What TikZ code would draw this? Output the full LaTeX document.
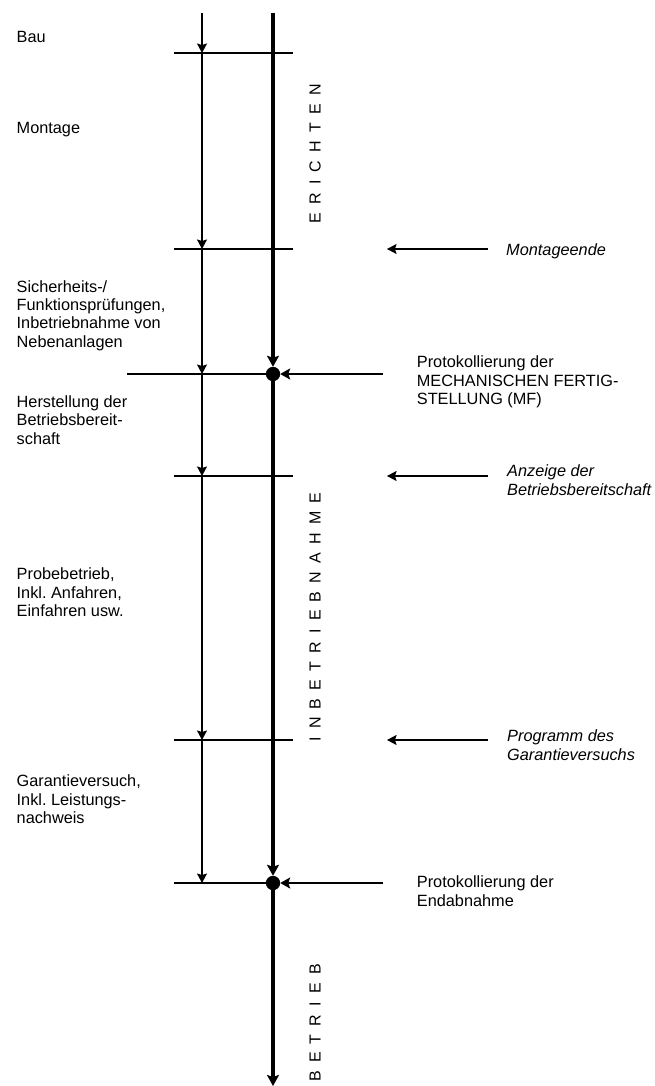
\documentclass[tikz,border=0pt]{standalone}
\usepackage{fontspec}
\setmainfont{Liberation Sans}
\usetikzlibrary{arrows.meta}
% spacing between the letters of the phase labels
\newcommand\lsp{\hspace{8.2pt}}
\frenchspacing
\begin{document}
\begin{tikzpicture}[x=1pt,y=-1pt,
  thinline/.style={line width=1.3pt},
  medline/.style={line width=2.2pt},
  thickline/.style={line width=3.5pt},
  thintip/.style={-{Stealth[length=9.5pt,width=10pt,inset=1.5pt]}},
  thicktip/.style={-{Stealth[length=11pt,width=12pt,inset=2pt]}},
  medtip/.style={-{Stealth[length=10pt,width=11pt,inset=2pt]}},
  % multi-line nodes are anchored at the baseline of their last line
  txt/.style={font=\fontsize{16.3}{18.3}\selectfont, align=left, inner sep=0pt, anchor=base west},
  itxt/.style={txt, font=\fontsize{16.3}{18.3}\selectfont\itshape},
  phase/.style={font=\fontsize{16}{18}\selectfont, inner sep=0pt, rotate=90, anchor=center},
  dot/.style={circle, fill=black, inner sep=0pt, minimum size=14pt}]
\useasboundingbox (0,0) rectangle (655,1086);

% junctions on the thin (activity) line
\coordinate (t0) at (202,13);
\coordinate (j1) at (202,53);
\coordinate (j2) at (202,249);
\coordinate (j3) at (202,374);
\coordinate (j4) at (202,476);
\coordinate (j5) at (202,740);
\coordinate (j6) at (202,883);

% thick (milestone) line
\coordinate (m0) at (273,13);
\coordinate (mend) at (273,1086);

% horizontal phase boundaries
\coordinate (h1l) at (174,53);  \coordinate (h1r) at (293,53);
\coordinate (h2l) at (174,249); \coordinate (h2r) at (293,249);
\coordinate (h3l) at (127,374);
\coordinate (h4l) at (174,476); \coordinate (h4r) at (293,476);
\coordinate (h5l) at (174,740); \coordinate (h5r) at (293,740);
\coordinate (h6l) at (174,883);

% milestone dots
\node[dot] (mf) at (273,374) {};
\node[dot] (ea) at (273,883) {};

\draw[thinline] (h1l) -- (h1r);
\draw[thinline] (h2l) -- (h2r);
\draw[thinline] (h3l) -- (mf.center);
\draw[thinline] (h4l) -- (h4r);
\draw[thinline] (h5l) -- (h5r);
\draw[thinline] (h6l) -- (ea.center);

% dots drawn again on top of the boundary lines
\fill (mf.center) circle[radius=7pt];
\fill (ea.center) circle[radius=7pt];

% thin activity arrows
\draw[thinline,thintip] (t0) -- (j1);
\draw[thinline,thintip] (j1) -- (j2);
\draw[thinline,thintip] (j2) -- (j3);
\draw[thinline,thintip] (j3) -- (j4);
\draw[thinline,thintip] (j4) -- (j5);
\draw[thinline,thintip] (j5) -- (j6);

% thick milestone line
\draw[thickline,thicktip] (m0) -- (mf.north);
\draw[thickline,thicktip] (mf.south) -- (ea.north);
\draw[thickline,thicktip] (ea.south) -- (mend);

% arrows into the milestones
\coordinate (mfsrc) at (383,374);
\coordinate (easrc) at (383,883);
\draw[medline,medtip] (mfsrc) -- (mf.east);
\draw[medline,medtip] (easrc) -- (ea.east);

% document arrows
\coordinate (a1s) at (488,249); \coordinate (a1e) at (387,249);
\coordinate (a2s) at (488,476); \coordinate (a2e) at (387,476);
\coordinate (a3s) at (488,740); \coordinate (a3e) at (387,740);
\draw[thinline,thintip] (a1s) -- (a1e);
\draw[thinline,thintip] (a2s) -- (a2e);
\draw[thinline,thintip] (a3s) -- (a3e);

% activity texts
\node[txt] (bau) at (16.5,43) {Bau};
\node[txt] (mont) at (16.5,134) {Montage};
\node[txt] (sich) at (16.5,347) {Sicherheits-/\\Funktionsprüfungen,\\Inbetriebnahme von\\Nebenanlagen};
\node[txt] (herst) at (16.5,444) {Herstellung der\\Betriebsbereit-\\schaft};
\node[txt] (probe) at (16.5,616.5) {Probebetrieb,\\Inkl. Anfahren,\\Einfahren usw.};
\node[txt] (garant) at (16.5,823.5) {Garantieversuch,\\Inkl. Leistungs-\\nachweis};

% milestone and document texts
\node[txt] (mftxt) at (416.7,404.5) {Protokollierung der\\MECHANISCHEN FERTIG-\\STELLUNG (MF)};
\node[txt] (eatxt) at (416.7,906) {Protokollierung der\\Endabnahme};
\node[itxt] (metxt) at (506,255) {Montageende};
\node[itxt] (antxt) at (507,495) {Anzeige der\\Betriebsbereitschaft};
\node[itxt] (prtxt) at (507,760) {Programm des\\Garantieversuchs};

% phase labels
\node[phase] (ph1) at (315,154) {E\lsp R\lsp I\lsp C\lsp H\lsp T\lsp E\lsp N};
\node[phase] (ph2) at (315,617) {I\lsp N\lsp B\lsp E\lsp T\lsp R\lsp I\lsp E\lsp B\lsp N\lsp A\lsp H\lsp M\lsp E};
\node[phase] (ph3) at (315,1023) {B\lsp E\lsp T\lsp R\lsp I\lsp E\lsp B};
\end{tikzpicture}
\end{document}
